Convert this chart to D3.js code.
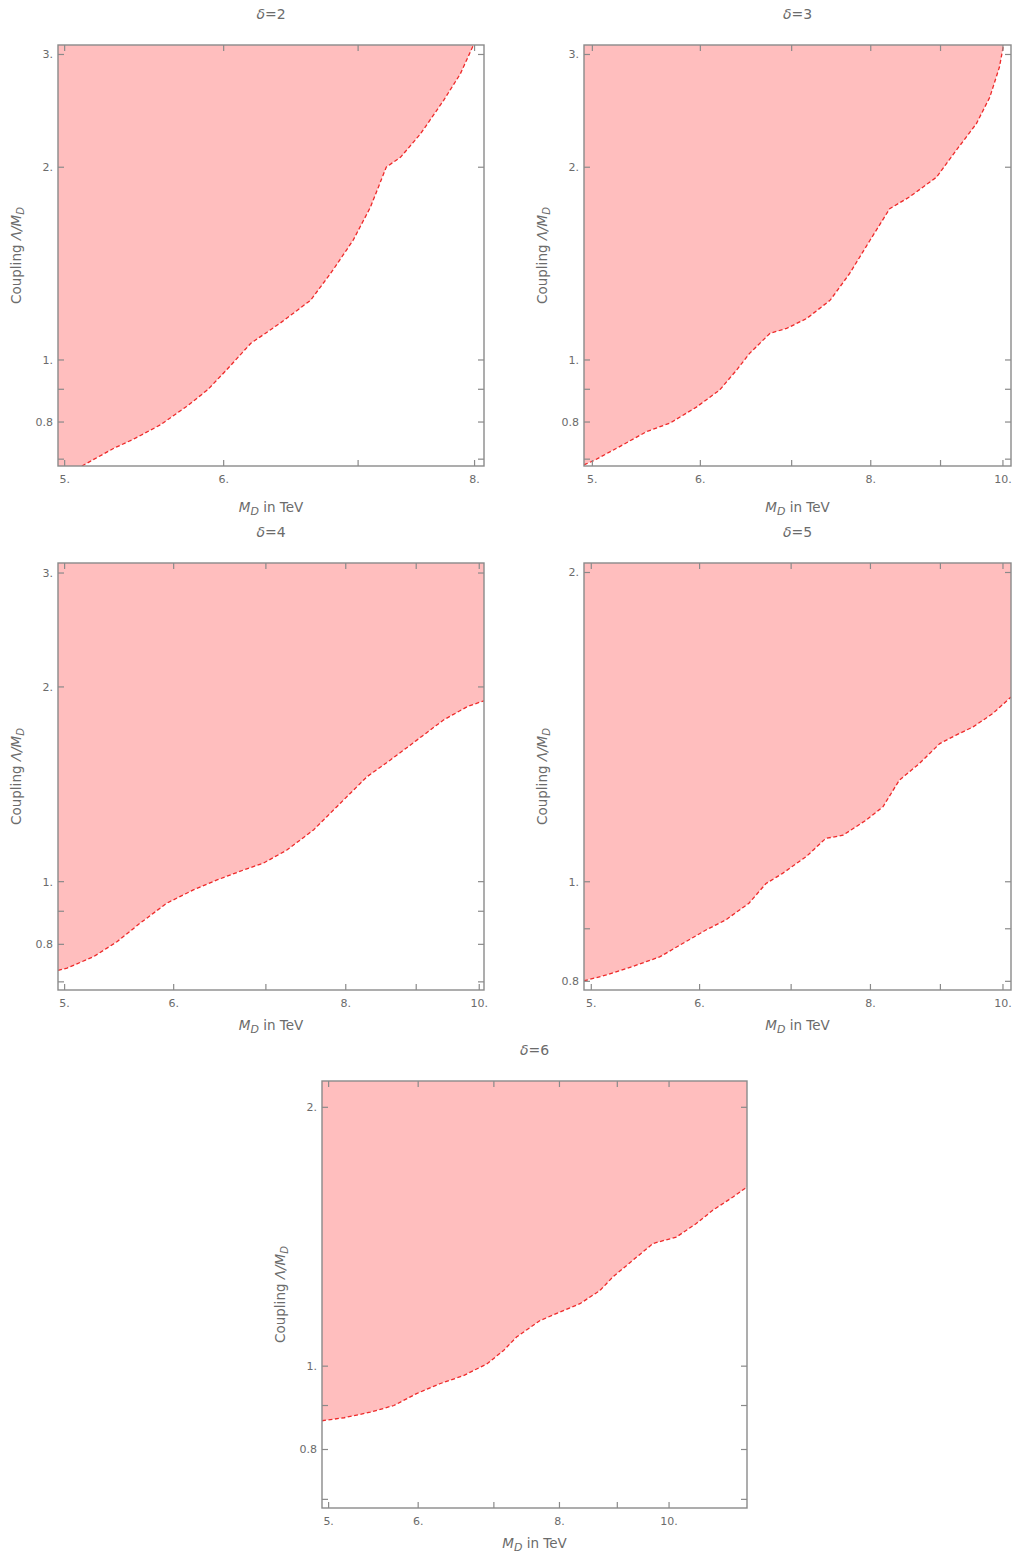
<!DOCTYPE html>
<html>
<head>
<meta charset="utf-8">
<script src="https://cdn.jsdelivr.net/npm/d3@7"></script>
<style>
  body { margin: 0; background: #fff; }
  svg { display: block; font-family: "DejaVu Sans", "Liberation Sans", sans-serif; }
  .tick-label { fill: #6b6b6b; font-size: 11px; }
  .title { fill: #6b6b6b; font-size: 14px; }
  .axis-label { fill: #6b6b6b; font-size: 13.5px; }
</style>
</head>
<body>
<div id="chart"></div>
<script>
// Exclusion contours, Coupling Λ/M_D vs M_D (log-log), one panel per δ

// δ=2
const md2 = [5.10, 5.29, 5.41, 5.58, 5.75, 5.89, 6.02, 6.19, 6.40, 6.63, 6.80, 6.96, 7.10, 7.23, 7.35, 7.52, 7.72, 7.87, 7.99];
const coupling2 = [0.683, 0.728, 0.752, 0.792, 0.846, 0.898, 0.965, 1.062, 1.141, 1.240, 1.381, 1.538, 1.733, 2.001, 2.074, 2.256, 2.542, 2.797, 3.104];

// δ=3
const md3 = [4.93, 5.01, 5.24, 5.48, 5.70, 5.96, 6.20, 6.38, 6.52, 6.75, 6.94, 7.18, 7.47, 7.72, 7.99, 8.26, 8.54, 8.94, 9.24, 9.56, 9.78, 9.94, 10.01];
const coupling3 = [0.686, 0.696, 0.733, 0.773, 0.797, 0.844, 0.898, 0.965, 1.024, 1.101, 1.120, 1.161, 1.240, 1.365, 1.538, 1.723, 1.797, 1.930, 2.124, 2.338, 2.572, 2.865, 3.104];

// δ=4
const md4 = [4.945, 5.02, 5.25, 5.46, 5.67, 5.93, 6.20, 6.45, 6.74, 6.97, 7.25, 7.58, 7.97, 8.29, 8.62, 9.01, 9.42, 9.80, 10.08];
const coupling4 = [0.729, 0.735, 0.766, 0.808, 0.862, 0.926, 0.971, 1.006, 1.042, 1.068, 1.119, 1.202, 1.337, 1.453, 1.542, 1.655, 1.778, 1.864, 1.904];

// δ=5
const md5 = [4.939, 5.12, 5.36, 5.61, 5.86, 6.06, 6.27, 6.52, 6.71, 6.90, 7.18, 7.42, 7.64, 7.94, 8.17, 8.40, 8.69, 8.99, 9.24, 9.51, 9.83, 10.136];
const coupling5 = [0.801, 0.811, 0.827, 0.845, 0.874, 0.897, 0.918, 0.953, 0.996, 1.019, 1.058, 1.102, 1.110, 1.148, 1.183, 1.256, 1.304, 1.363, 1.389, 1.415, 1.458, 1.513];

// δ=6
const md6 = [4.933, 5.16, 5.44, 5.71, 5.98, 6.27, 6.58, 6.90, 7.14, 7.33, 7.69, 8.01, 8.34, 8.69, 8.92, 9.29, 9.68, 10.15, 10.57, 10.93, 11.39, 11.72];
const coupling6 = [0.864, 0.871, 0.884, 0.900, 0.929, 0.954, 0.975, 1.006, 1.043, 1.081, 1.130, 1.156, 1.182, 1.225, 1.270, 1.328, 1.389, 1.413, 1.465, 1.518, 1.573, 1.616];

// tick values
const xTicksShort = [5, 6, 7, 8];
const xTicksLong = [5, 6, 7, 8, 9, 10];
const xLabeled = [5, 6, 8, 10];
const yTicksWide = [0.7, 0.8, 0.9, 1, 2, 3];
const yTicksNarrow = [0.8, 0.9, 1, 2];
const yTicksMid = [0.7, 0.8, 0.9, 1, 2];
const yLabeled = [0.8, 1, 2, 3];

const titles = ["2", "3", "4", "5", "6"];

const width = 1014, height = 1557;

const panels = [
    { delta: titles[0], md: md2, coupling: coupling2, box: [58, 45, 426, 421], xDom: [4.962, 8.087], yDom: [0.683, 3.104], xTicks: xTicksShort, yTicks: yTicksWide },
    { delta: titles[1], md: md3, coupling: coupling3, box: [584, 45, 427, 421], xDom: [4.93, 10.137], yDom: [0.683, 3.104], xTicks: xTicksLong, yTicks: yTicksWide },
    { delta: titles[2], md: md4, coupling: coupling4, box: [58, 563, 426, 427], xDom: [4.945, 10.08], yDom: [0.680, 3.109], xTicks: xTicksLong, yTicks: yTicksWide },
    { delta: titles[3], md: md5, coupling: coupling5, box: [584, 563, 427, 427], xDom: [4.939, 10.136], yDom: [0.7846, 2.043], xTicks: xTicksLong, yTicks: yTicksNarrow },
    { delta: titles[4], md: md6, coupling: coupling6, box: [322, 1081, 425, 427], xDom: [4.933, 11.72], yDom: [0.684, 2.146], xTicks: xTicksLong, yTicks: yTicksMid }
];

const svg = d3.select("#chart").append("svg")
    .attr("width", width)
    .attr("height", height);

const frameColor = "#8a8a8a";
const tickLen = 6;

function fmt(v) {
    return Number.isInteger(v) ? v + "." : String(v);
}

panels.forEach((p, i) => {
    const [left, top, w, h] = p.box;
    const x = d3.scaleLog().domain(p.xDom).range([0, w]);
    const y = d3.scaleLog().domain(p.yDom).range([h, 0]);

    const g = svg.append("g").attr("transform", `translate(${left},${top})`);

    g.append("clipPath").attr("id", "clip" + i)
        .append("rect").attr("width", w).attr("height", h);

    const pts = p.md.map((m, k) => [m, p.coupling[k]]);
    // excluded region: above the contour, bounded by the frame
    const poly = pts.concat([
        [p.xDom[1], p.yDom[1]],
        [p.xDom[0], p.yDom[1]],
        [p.xDom[0], p.yDom[0]]
    ]);

    const line = d3.line().x(d => x(d[0])).y(d => y(d[1]));

    const plot = g.append("g").attr("clip-path", `url(#clip${i})`);
    plot.append("path")
        .attr("d", line(poly) + "Z")
        .attr("fill", "#ffbebe")
        .attr("stroke", "none");
    plot.append("path")
        .attr("d", line(pts))
        .attr("fill", "none")
        .attr("stroke", "#ee2a2a")
        .attr("stroke-width", 1.3)
        .attr("stroke-dasharray", "4,2.5");

    // ticks on all four sides, pointing inward
    const ticks = g.append("g").attr("stroke", frameColor).attr("stroke-width", 1.2);
    p.xTicks.forEach(t => {
        ticks.append("line").attr("x1", x(t)).attr("x2", x(t)).attr("y1", h).attr("y2", h - tickLen);
        ticks.append("line").attr("x1", x(t)).attr("x2", x(t)).attr("y1", 0).attr("y2", tickLen);
    });
    p.yTicks.forEach(t => {
        ticks.append("line").attr("x1", 0).attr("x2", tickLen).attr("y1", y(t)).attr("y2", y(t));
        ticks.append("line").attr("x1", w).attr("x2", w - tickLen).attr("y1", y(t)).attr("y2", y(t));
    });

    g.append("rect")
        .attr("width", w).attr("height", h)
        .attr("fill", "none")
        .attr("stroke", frameColor)
        .attr("stroke-width", 1.4);

    // tick labels
    g.selectAll(".xl").data(p.xTicks.filter(t => xLabeled.includes(t)))
        .enter().append("text")
        .attr("class", "tick-label")
        .attr("x", d => x(d))
        .attr("y", h + 17)
        .attr("text-anchor", "middle")
        .text(fmt);

    g.selectAll(".yl").data(p.yTicks.filter(t => yLabeled.includes(t)))
        .enter().append("text")
        .attr("class", "tick-label")
        .attr("x", -5)
        .attr("y", d => y(d))
        .attr("dy", "0.35em")
        .attr("text-anchor", "end")
        .text(fmt);

    // title
    const title = g.append("text")
        .attr("class", "title")
        .attr("x", w / 2)
        .attr("y", -26)
        .attr("text-anchor", "middle");
    title.append("tspan").attr("font-style", "italic").text("δ");
    title.append("tspan").text("=" + p.delta);

    // x label
    const xl = g.append("text")
        .attr("class", "axis-label")
        .attr("x", w / 2)
        .attr("y", 467)
        .attr("text-anchor", "middle");
    xl.append("tspan").attr("font-style", "italic").text("M");
    xl.append("tspan").attr("font-style", "italic").attr("font-size", "11px").attr("dy", 3).text("D");
    xl.append("tspan").attr("dy", -3).text(" in TeV");

    // y label
    const yl = g.append("text")
        .attr("class", "axis-label")
        .attr("font-size", "11.5px")
        .attr("transform", `translate(${-37},${h / 2}) rotate(-90)`)
        .attr("text-anchor", "middle");
    yl.append("tspan").text("Coupling ");
    yl.append("tspan").attr("font-style", "italic").text("Λ/M");
    yl.append("tspan").attr("font-style", "italic").attr("font-size", "10px").attr("dy", 3).text("D");
});
</script>
</body>
</html>
